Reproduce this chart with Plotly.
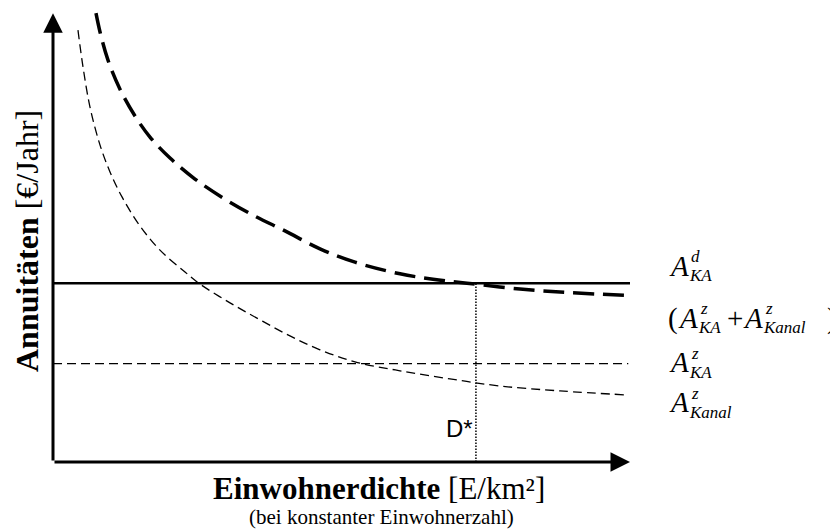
import plotly.graph_objects as go

# ---- data (schematic units) ----
dichte_summe = [0.745, 0.815, 0.953, 1.161, 1.421, 1.681, 2.028, 2.461, 2.981, 3.501, 4.021,
                4.627, 5.234, 6.014, 6.586, 7.175, 8.094, 8.960, 10.052]
annuitaet_summe = [10.04, 9.62, 8.99, 8.34, 7.74, 7.27, 6.80, 6.33, 5.88, 5.50, 5.17,
                   4.77, 4.47, 4.21, 4.09, 4.00, 3.87, 3.79, 3.72]
dichte_kanal = [0.433, 0.520, 0.641, 0.815, 0.988, 1.196, 1.508, 1.854, 2.288, 2.548, 3.068,
                3.588, 4.107, 4.627, 5.234, 6.014, 6.880, 7.747, 8.787, 9.948]
annuitaet_kanal = [9.66, 8.84, 7.94, 7.09, 6.49, 5.93, 5.28, 4.74, 4.25, 3.98, 3.56,
                   3.18, 2.82, 2.51, 2.24, 2.04, 1.86, 1.70, 1.59, 1.50]
a_ka_d = 4.0          # dezentral (constant)
a_ka_z = 2.2          # zentral Kläranlage (constant)
d_star = 7.33         # break-even density
x_end_d = 10.0
x_end_z = 9.97
x_axis_end = 10.0
y_axis_end = 10.04

# ---- layout geometry (page has an 8px body margin) ----
W, H = 838, 530
OFF = 8
L, R, T, B = 45, 206, 0, 76
PW, PH = W - L - R, H - T - B
PX_X = 57.7   # px per x unit
PX_Y = 44.7   # px per y unit
x_range = [0, PW / PX_X]
y_range = [0, PH / PX_Y]


def xp(px):   # screenshot px -> paper
    return (px - OFF - L) / PW


def yp(py):
    return (H - B - (py - OFF)) / PH


SERIF = "Liberation Serif, Times New Roman, serif"
SANS = "Liberation Sans, Arial, sans-serif"

fig = go.Figure()

fig.add_trace(go.Scatter(x=dichte_summe, y=annuitaet_summe, mode="lines",
                         line=dict(color="black", width=3.5, dash="21px,9px", shape="spline"),
                         hoverinfo="skip"))
fig.add_trace(go.Scatter(x=dichte_kanal, y=annuitaet_kanal, mode="lines",
                         line=dict(color="black", width=1.3, dash="9px,5px", shape="spline"),
                         hoverinfo="skip"))
fig.add_trace(go.Scatter(x=[0, x_end_d], y=[a_ka_d, a_ka_d], mode="lines",
                         line=dict(color="black", width=2.6), hoverinfo="skip"))
fig.add_trace(go.Scatter(x=[0, x_end_z], y=[a_ka_z, a_ka_z], mode="lines",
                         line=dict(color="black", width=1.3, dash="9px,5px"), hoverinfo="skip"))
fig.add_trace(go.Scatter(x=[d_star, d_star], y=[0, a_ka_d], mode="lines",
                         line=dict(color="black", width=1.5, dash="1.5px,1.5px"), hoverinfo="skip"))

ann = []
# axes with arrows
ann.append(dict(x=0, y=y_axis_end, ax=0, ay=0, xref="x", yref="y", axref="x", ayref="y",
                text="", showarrow=True, arrowhead=2, arrowsize=1.3, arrowwidth=3,
                arrowcolor="black", standoff=0, startstandoff=0))
ann.append(dict(x=x_axis_end, y=0, ax=0, ay=0, xref="x", yref="y", axref="x", ayref="y",
                text="", showarrow=True, arrowhead=2, arrowsize=1.3, arrowwidth=3,
                arrowcolor="black", standoff=0, startstandoff=0))


def txt(px, py, s, size, xanchor="left", yanchor="middle", family=SERIF, angle=0):
    ann.append(dict(x=xp(px), y=yp(py), xref="paper", yref="paper", text=s, showarrow=False,
                    xanchor=xanchor, yanchor=yanchor, textangle=angle,
                    font=dict(family=family, size=size, color="black"), borderpad=0))


# axis titles
txt(379, 488, "<b>Einwohnerdichte</b> [E/km²]", 31, xanchor="center")
txt(381, 517, "(bei konstanter Einwohnerzahl)", 21, xanchor="center")
txt(27, 241, "<b>Annuitäten</b> [€/Jahr]", 32, xanchor="center", angle=-90)

# D* label
txt(474, 428, "D*", 24, xanchor="right", family=SANS)

# right-hand labels
BS, SS = 29, 17


def label(x0, captop, sup, sub):
    txt(x0, captop + 10, "<i>A</i>", BS)
    txt(x0 + 22, captop + 1, "<i>" + sup + "</i>", SS)
    txt(x0 + 20, captop + 20, "<i>" + sub + "</i>", SS)


label(668, 256, "d", "KA")
txt(667, 318, "(", BS)
label(677, 308, "z", "KA")
txt(726, 318, "+", BS)
label(742, 308, "z", "Kanal")
txt(826, 318, ")", BS)
label(668, 352, "z", "KA")
label(668, 392, "z", "Kanal")

fig.update_layout(
    width=W, height=H,
    margin=dict(l=L, r=R, t=T, b=B),
    paper_bgcolor="white", plot_bgcolor="white",
    showlegend=False,
    xaxis=dict(range=x_range, showgrid=False, zeroline=False, showticklabels=False,
               showline=False, ticks="", fixedrange=True),
    yaxis=dict(range=y_range, showgrid=False, zeroline=False, showticklabels=False,
               showline=False, ticks="", fixedrange=True),
    annotations=ann,
)

fig.write_html("out.html", config={"displayModeBar": False})
